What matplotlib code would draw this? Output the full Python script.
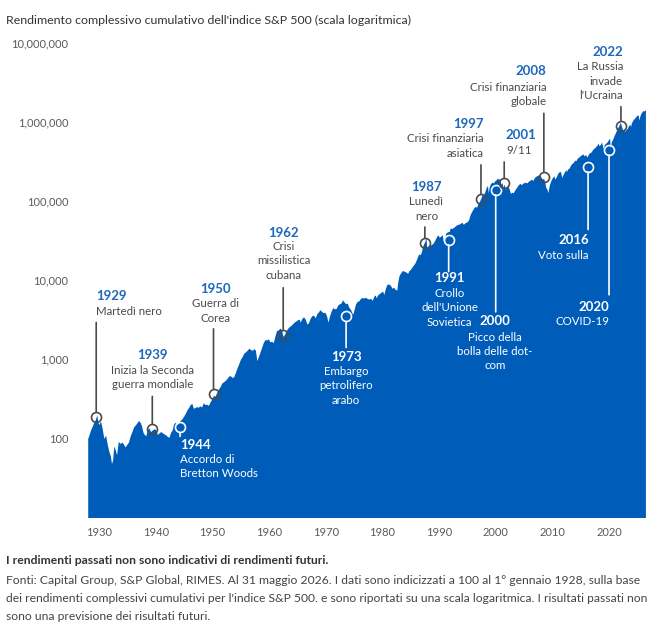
import numpy as np
import matplotlib
matplotlib.use("Agg")
import matplotlib.pyplot as plt
from matplotlib.ticker import FixedLocator, FixedFormatter

plt.rcParams['font.family'] = ['Lato', 'DejaVu Sans']

# valori (indice = 100 al 1° gennaio 1928)
years = [
    1928.00, 1928.25, 1928.50, 1928.75, 1929.00, 1929.30, 1929.60, 1929.80, 1929.95, 1930.25,
    1930.50, 1930.85, 1931.15, 1931.45, 1931.75, 1932.00, 1932.20, 1932.40, 1932.60, 1932.85,
    1933.10, 1933.40, 1933.70, 1934.00, 1934.30, 1934.60, 1934.90, 1935.20, 1935.50, 1935.80,
    1936.10, 1936.40, 1936.70, 1936.95, 1937.20, 1937.50, 1937.75, 1938.00, 1938.25, 1938.50,
    1938.80, 1939.10, 1939.40, 1939.70, 1940.00, 1940.30, 1940.60, 1940.90, 1941.20, 1941.50,
    1941.80, 1942.10, 1942.35, 1942.60, 1942.90, 1943.15, 1943.45, 1943.75, 1944.05, 1944.35,
    1944.65, 1944.95, 1945.25, 1945.55, 1945.85, 1946.15, 1946.40, 1946.65, 1946.90, 1947.20,
    1947.50, 1947.80, 1948.10, 1948.40, 1948.70, 1949.00, 1949.30, 1949.60, 1949.90, 1950.20,
    1950.45, 1950.75, 1951.05, 1951.35, 1951.65, 1951.95, 1952.25, 1952.55, 1952.85, 1953.15,
    1953.45, 1953.75, 1954.05, 1954.35, 1954.65, 1954.95, 1955.25, 1955.55, 1955.85, 1956.15,
    1956.45, 1956.75, 1957.05, 1957.35, 1957.60, 1957.85, 1958.10, 1958.40, 1958.70, 1959.00,
    1959.30, 1959.60, 1959.90, 1960.15, 1960.45, 1960.75, 1961.00, 1961.30, 1961.60, 1961.90,
    1962.20, 1962.45, 1962.70, 1962.95, 1963.25, 1963.55, 1963.85, 1964.15, 1964.45, 1964.75,
    1965.05, 1965.35, 1965.50, 1965.80, 1966.10, 1966.40, 1966.70, 1966.95, 1967.25, 1967.55,
    1967.85, 1968.15, 1968.45, 1968.75, 1968.95, 1969.25, 1969.55, 1969.85, 1970.15, 1970.40,
    1970.65, 1970.95, 1971.25, 1971.55, 1971.85, 1972.15, 1972.45, 1972.75, 1972.95, 1973.25,
    1973.55, 1973.80, 1974.05, 1974.35, 1974.55, 1974.75, 1974.95, 1975.25, 1975.55, 1975.85,
    1976.15, 1976.45, 1976.75, 1977.05, 1977.35, 1977.65, 1977.95, 1978.20, 1978.50, 1978.75,
    1978.90, 1979.15, 1979.45, 1979.75, 1980.05, 1980.25, 1980.55, 1980.85, 1981.10, 1981.40,
    1981.70, 1981.95, 1982.25, 1982.55, 1982.75, 1982.95, 1983.25, 1983.55, 1983.85, 1984.15,
    1984.45, 1984.70, 1984.95, 1985.25, 1985.55, 1985.80, 1986.10, 1986.40, 1986.65, 1986.90,
    1987.15, 1987.45, 1987.70, 1987.82, 1988.05, 1988.35, 1988.65, 1988.95, 1989.25, 1989.55,
    1989.80, 1990.05, 1990.35, 1990.55, 1990.75, 1990.95, 1991.20, 1991.50, 1991.80, 1991.98,
    1992.25, 1992.55, 1992.85, 1993.15, 1993.45, 1993.75, 1994.05, 1994.30, 1994.60, 1994.90,
    1995.20, 1995.50, 1995.80, 1996.10, 1996.40, 1996.65, 1996.90, 1997.15, 1997.40, 1997.65,
    1997.85, 1998.05, 1998.35, 1998.55, 1998.68, 1998.85, 1999.05, 1999.35, 1999.60, 1999.85,
    2000.05, 2000.25, 2000.50, 2000.70, 2000.90, 2001.10, 2001.30, 2001.50, 2001.70, 2001.95,
    2002.20, 2002.45, 2002.60, 2002.80, 2003.10, 2003.40, 2003.70, 2003.95, 2004.25, 2004.55,
    2004.85, 2005.15, 2005.45, 2005.75, 2006.05, 2006.35, 2006.55, 2006.85, 2007.15, 2007.45,
    2007.65, 2007.80, 2008.00, 2008.25, 2008.45, 2008.65, 2008.85, 2009.05, 2009.20, 2009.45,
    2009.70, 2009.95, 2010.25, 2010.45, 2010.70, 2010.95, 2011.25, 2011.45, 2011.65, 2011.85,
    2012.10, 2012.35, 2012.50, 2012.75, 2012.95, 2013.20, 2013.45, 2013.70, 2013.95, 2014.15,
    2014.40, 2014.65, 2014.85, 2015.10, 2015.40, 2015.65, 2015.85, 2016.10, 2016.35, 2016.60,
    2016.85, 2017.10, 2017.40, 2017.65, 2017.90, 2018.05, 2018.20, 2018.45, 2018.70, 2018.95,
    2019.15, 2019.40, 2019.65, 2019.90, 2020.10, 2020.22, 2020.40, 2020.65, 2020.90, 2021.15,
    2021.40, 2021.65, 2021.90, 2022.00, 2022.20, 2022.45, 2022.60, 2022.80, 2022.95, 2023.20,
    2023.45, 2023.65, 2023.80, 2023.95, 2024.20, 2024.40, 2024.60, 2024.80, 2024.95, 2025.15,
    2025.28, 2025.45, 2025.65, 2025.85, 2026.05, 2026.25, 2026.42,
]
values = [
    100, 112, 128, 140, 155, 170, 198, 160, 150, 165,
    140, 100, 110, 84, 68, 60, 48, 54, 80, 72,
    62, 92, 86, 90, 85, 78, 84, 90, 108, 122,
    140, 148, 158, 168, 162, 145, 120, 112, 108, 128,
    136, 122, 128, 132, 130, 112, 118, 122, 117, 114,
    110, 105, 104, 118, 128, 152, 160, 150, 158, 170,
    178, 192, 210, 232, 250, 272, 275, 240, 245, 252,
    248, 258, 250, 282, 268, 270, 262, 290, 315, 352,
    340, 380, 420, 450, 500, 520, 540, 570, 610, 625,
    590, 600, 680, 780, 880, 1000, 1080, 1200, 1240, 1310,
    1380, 1330, 1300, 1370, 1300, 960, 1080, 1230, 1420, 1640,
    1780, 1760, 1820, 1660, 1700, 1620, 1920, 2300, 2350, 2480,
    2380, 1950, 2050, 2250, 2450, 2580, 2680, 2820, 2960, 3050,
    3170, 3220, 2950, 3300, 3450, 3200, 2780, 2900, 3300, 3560,
    3620, 3350, 3800, 4000, 4250, 4050, 3900, 3950, 3550, 2950,
    3500, 4050, 4500, 4350, 4400, 4900, 5050, 5200, 5660, 5300,
    5050, 5150, 4600, 4300, 4000, 3700, 4100, 5000, 5400, 5500,
    5900, 6050, 5950, 6100, 5850, 5800, 5900, 5550, 6300, 6500,
    6000, 6500, 6800, 7050, 7300, 6600, 8000, 9000, 8900, 8700,
    7900, 8200, 7700, 7500, 9800, 11500, 12500, 13300, 13000, 12700,
    12200, 13300, 13700, 14800, 15800, 16800, 19000, 21500, 21000, 23000,
    27500, 30500, 34300, 25500, 26000, 27500, 28200, 29500, 32000, 35500,
    37500, 35000, 36500, 37800, 31500, 34000, 39500, 41000, 41500, 46000,
    45000, 46500, 48500, 50500, 51000, 52500, 54000, 51000, 53500, 54500,
    58000, 68000, 75000, 82000, 86000, 84000, 95000, 100000, 110000, 125000,
    120000, 130000, 150000, 158000, 128000, 150000, 165000, 175000, 170000, 182000,
    185000, 195000, 190000, 192000, 165000, 172000, 150000, 165000, 140000, 155000,
    152000, 138000, 125000, 130000, 128000, 140000, 150000, 160000, 168000, 162000,
    170000, 174000, 170000, 178000, 184000, 190000, 182000, 200000, 208000, 215000,
    205000, 220000, 200000, 190000, 195000, 175000, 148000, 142000, 128000, 158000,
    180000, 195000, 210000, 190000, 205000, 225000, 238000, 235000, 200000, 215000,
    232000, 250000, 238000, 258000, 262000, 285000, 300000, 310000, 330000, 325000,
    350000, 362000, 372000, 385000, 395000, 372000, 390000, 360000, 395000, 410000,
    420000, 450000, 470000, 490000, 515000, 545000, 505000, 520000, 560000, 460000,
    520000, 540000, 560000, 600000, 625000, 470000, 560000, 610000, 680000, 740000,
    820000, 880000, 960000, 1000000, 880000, 780000, 840000, 760000, 800000, 830000,
    900000, 940000, 880000, 980000, 1060000, 1100000, 1140000, 1190000, 1230000, 1220000,
    1060000, 1200000, 1300000, 1360000, 1400000, 1390000, 1440000,
]

y_ticks = [100, 1000, 10000, 100000, 1000000, 10000000]
y_tick_labels = ['100', '1,000', '10,000', '100,000', '1,000,000', '10,000,000']
x_ticks = [1930, 1940, 1950, 1960, 1970, 1980, 1990, 2000, 2010, 2020]

# eventi: anno, valore del cerchio, testo
event_years = [1929.5, 1939.4, 1944.3, 1950.2, 1962.5, 1973.6, 1987.5, 1991.7,
               1997.4, 2000.0, 2001.5, 2008.5, 2016.3, 2020.0, 2022.1]
event_values = [184, 130, 138, 366, 2050, 3480, 29600, 32600,
                107000, 139000, 170000, 200000, 274000, 446000, 900000]
event_titles = ['1929', '1939', '1944', '1950', '1962', '1973', '1987', '1991',
                '1997', '2000', '2001', '2008', '2016', '2020', '2022']
event_texts = [
    ['Martedì nero'],
    ['Inizia la Seconda', 'guerra mondiale'],
    ['Accordo di', 'Bretton Woods'],
    ['Guerra di', 'Corea'],
    ['Crisi', 'missilistica', 'cubana'],
    ['Embargo', 'petrolifero', 'arabo'],
    ['Lunedì', 'nero'],
    ['Crollo', "dell'Unione", 'Sovietica'],
    ['Crisi finanziaria', 'asiatica'],
    ['Picco della', 'bolla delle dot-', 'com'],
    ['9/11'],
    ['Crisi finanziaria', 'globale'],
    ['Voto sulla'],
    ['COVID-19'],
    ['La Russia', 'invade', "l'Ucraina"],
]

# disposizione delle etichette (pixel rispetto al cerchio)
# (chiaro?, fine linea, dx, allineamento, dy anno, dy prima riga)
layout = [
    (False, 95, 0, 'left', 121, 106),
    (False, 33, 0, 'center', 74, 59),
    (True, -9, 0, 'left', -18, -32),
    (False, 65, 1.5, 'center', 105, 90),
    (False, 47, 0.5, 'center', 102, 88),
    (True, -31, 0, 'center', -41, -55),
    (False, 16, 1.5, 'center', 56, 41),
    (True, -32, 1, 'center', -38, -54),
    (False, 34, 3, 'right', 75, 60),
    (True, -122, -1, 'center', -131.5, -147.5),
    (False, 21, 1.7, 'left', 47.7, 32),
    (False, 64, 2.4, 'right', 106, 90.3),
    (True, -63, 0.7, 'right', -73.3, -89),
    (True, -145, 0.7, 'right', -156.7, -172),
    (False, 19, 2, 'right', 74, 59),
]

area_color = '#005CB9'
blue_text = '#1D68BE'
gray_text = '#4a4a4a'
dark_line = '#4a4a4a'

fig = plt.figure(figsize=(6.70, 6.41), dpi=100)
ax = fig.add_axes([0.1309, 0.1927, 0.8324, 0.7402])

ax.fill_between(years, 10, values, color=area_color, lw=0)
ax.set_yscale('log')
ax.set_xlim(1928, years[-1])
ax.set_ylim(10, 1e7)

for s in ax.spines.values():
    s.set_visible(False)
ax.yaxis.set_major_locator(FixedLocator(y_ticks))
ax.yaxis.set_major_formatter(FixedFormatter(y_tick_labels))
ax.yaxis.set_minor_locator(FixedLocator([]))
ax.set_xticks(x_ticks)
ax.set_xticklabels([str(x) for x in x_ticks])
ax.tick_params(axis='both', length=0, labelsize=8, labelcolor='#5a5a5a')
ax.tick_params(axis='y', pad=14)
ax.tick_params(axis='x', pad=7)

for yr, val, title, lines, lay in zip(event_years, event_values, event_titles, event_texts, layout):
    light, line_end, dx, ha, dy_year, dy_text = lay
    c_line = 'white' if light else dark_line
    c_year = 'white' if light else blue_text
    c_text = 'white' if light else gray_text
    ax.plot(yr, val, 'o', ms=7.2, mfc='none', mec=c_line, mew=1.2, zorder=4)
    ax.annotate('', xy=(yr, val), xytext=(0, line_end), textcoords='offset pixels',
                arrowprops=dict(arrowstyle='-', color=c_line, lw=1.2, shrinkA=0, shrinkB=3.7),
                zorder=3)
    ax.annotate(title, xy=(yr, val), xytext=(dx, dy_year), textcoords='offset pixels',
                ha=ha, va='center', fontsize=9.5, fontweight='bold', color=c_year)
    for i, line in enumerate(lines):
        ax.annotate(line, xy=(yr, val), xytext=(dx, dy_text - i * 14.3),
                    textcoords='offset pixels', ha=ha, va='center', fontsize=8.3, color=c_text)

fig.text(6 / 670, 1 - 20 / 641, "Rendimento complessivo cumulativo dell'indice S&P 500 (scala logaritmica)",
         ha='left', va='center', fontsize=8.9, color='#333333')

fig.text(6 / 670, 1 - 561 / 641, 'I rendimenti passati non sono indicativi di rendimenti futuri.',
         ha='left', va='center', fontsize=8.7, fontweight='bold', color='#333333')
footer = [
    "Fonti: Capital Group, S&P Global, RIMES. Al 31 maggio 2026. I dati sono indicizzati a 100 al 1° gennaio 1928, sulla base",
    "dei rendimenti complessivi cumulativi per l'indice S&P 500. e sono riportati su una scala logaritmica. I risultati passati non",
    "sono una previsione dei risultati futuri.",
]
for i, line in enumerate(footer):
    fig.text(6 / 670, 1 - (580 + i * 18) / 641, line, ha='left', va='center',
             fontsize=8.7, color='#444444')

fig.savefig('out.png', dpi=100)
